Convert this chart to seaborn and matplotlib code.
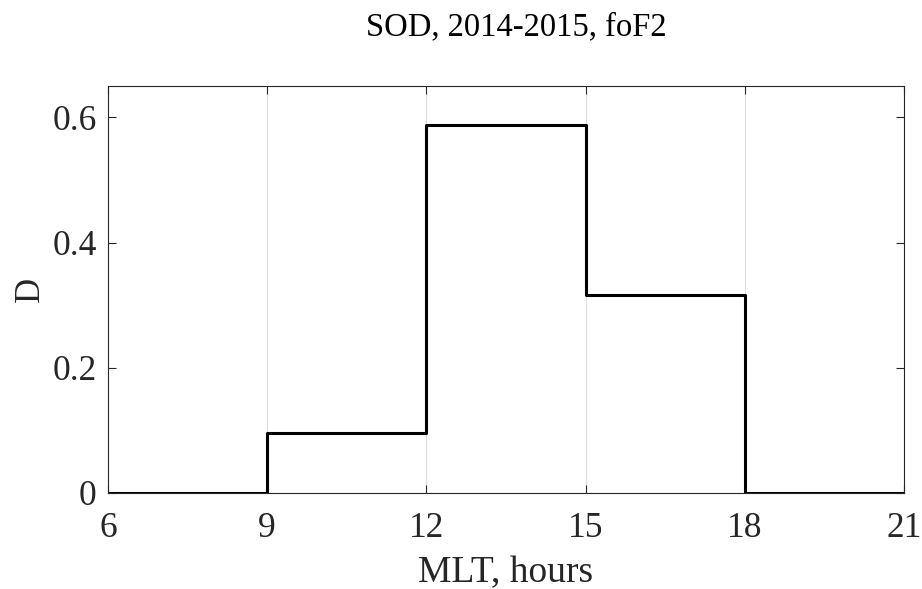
import matplotlib
matplotlib.use("Agg")
import matplotlib.pyplot as plt
import seaborn as sns
import pandas as pd

# Step histogram of D versus magnetic local time
mlt_edges = [6, 9, 12, 15, 18, 21]
d_values = [0.0, 0.096, 0.587, 0.317, 0.0, 0.0]
x_ticks = [6, 9, 12, 15, 18, 21]
y_ticks = [0, 0.2, 0.4, 0.6]

sns.set_theme(style="white")
plt.rcParams["font.family"] = ["Liberation Serif", "DejaVu Serif"]

df = pd.DataFrame({"MLT": mlt_edges, "D": d_values})

fig = plt.figure(figsize=(9.22, 5.89), dpi=100)
ax = fig.add_axes([0.1171, 0.163, 0.8634, 0.691])

ax.grid(axis="x", color="#dcdcdc", linewidth=0.8)
ax.set_axisbelow(True)

sns.lineplot(data=df, x="MLT", y="D", ax=ax, color="black", linewidth=2.2,
             drawstyle="steps-post", estimator=None, sort=False)

ax.set_xlim(6, 21)
ax.set_ylim(0, 0.65)
ax.set_xticks(x_ticks)
ax.set_xticklabels([str(t) for t in x_ticks])
ax.set_yticks(y_ticks)
ax.set_yticklabels(["0", "0.2", "0.4", "0.6"])

for s in ax.spines.values():
    s.set_visible(True)
    s.set_color("#262626")
    s.set_linewidth(0.8)

ax.tick_params(axis="both", which="both", direction="in", length=5.5, width=0.8,
               color="#262626", labelsize=25.5, labelcolor="#262626",
               top=True, right=True, bottom=True, left=True)
ax.tick_params(axis="x", pad=14)
ax.tick_params(axis="y", pad=8)

ax.set_xlabel("MLT, hours", fontsize=27, color="#262626", labelpad=7.5)
ax.set_ylabel("D", fontsize=25, color="#262626", labelpad=4)
ax.set_title("SOD, 2014-2015, foF2", fontsize=23.5, color="black", pad=36.5, x=0.513)

fig.savefig("out.png", dpi=100)
